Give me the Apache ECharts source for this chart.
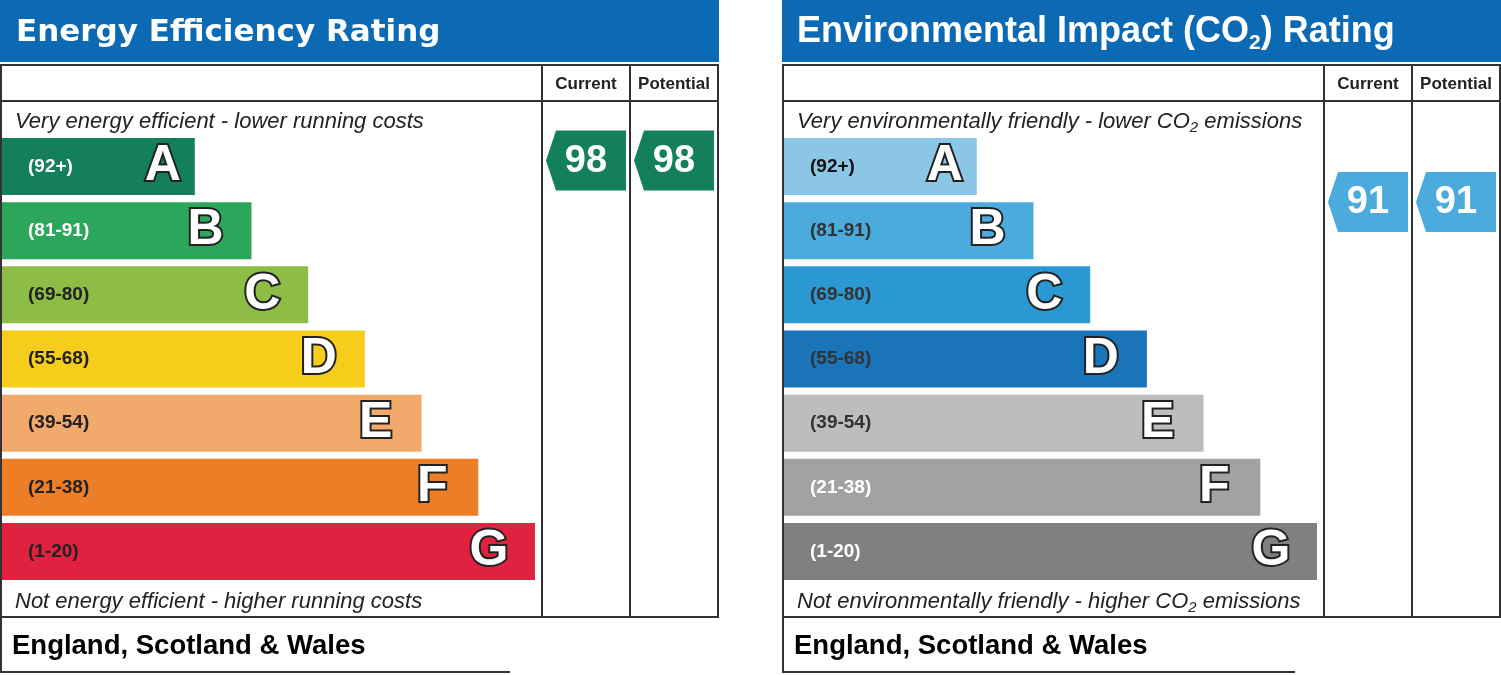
<!DOCTYPE html>
<html>
<head>
<meta charset="utf-8">
<script src="https://cdn.jsdelivr.net/npm/echarts@6/dist/echarts.min.js"></script>
<style>
html,body{margin:0;padding:0;background:#fff;}
#c{width:1501px;height:675px;}
</style>
</head>
<body>
<div id="c"></div>
<script>
// ---- data ----
const bandLetters = ['A', 'B', 'C', 'D', 'E', 'F', 'G'];
const bandRanges = ['(92+)', '(81-91)', '(69-80)', '(55-68)', '(39-54)', '(21-38)', '(1-20)'];
const bandMins = [92, 81, 69, 55, 39, 21, 1];
const barLengths = [34, 44, 54, 64, 74, 84, 94];
const columnLabels = ['Current', 'Potential'];
const energyScores = [98, 98];
const envScores = [91, 91];
const energyTitle = 'Energy Efficiency Rating';
const envTitle = 'Environmental Impact (CO{s|2}) Rating';
const energyTopText = 'Very energy efficient - lower running costs';
const energyBottomText = 'Not energy efficient - higher running costs';
const envTopText = 'Very environmentally friendly - lower CO{s|2} emissions';
const envBottomText = 'Not environmentally friendly - higher CO{s|2} emissions';
const footerText = 'England, Scotland & Wales';

// ---- styles ----
const energyColors = ['#138059', '#2ca65a', '#8ebd45', '#f5cd1a', '#f2a96c', '#ec7e27', '#e0213f'];
const energyLabelColors = ['#fff', '#fff', '#222', '#222', '#222', '#222', '#222'];
const envColors = ['#8cc6e7', '#4aabdc', '#2a98d2', '#1a74b8', '#bdbdbd', '#a2a2a2', '#808080'];
const envLabelColors = ['#111', '#333', '#333', '#333', '#333', '#fff', '#fff'];
const letterInset = [7, 21, 21, 21, 21, 21, 21];
const FONT = '"Liberation Sans", Arial, Helvetica, sans-serif';

function bandIndex(score) {
  for (let i = 0; i < bandMins.length; i++) if (score >= bandMins[i]) return i;
  return bandMins.length - 1;
}

const chart = echarts.init(document.getElementById('c'), null, {renderer: 'canvas'});

const panels = [
  {x0: 0, colA: 542, colB: 630, right: 718, footRight: 510, title: energyTitle, titleFont: 'bold 31px "DejaVu Sans", Verdana, sans-serif',
    top: energyTopText, bottom: energyBottomText, colors: energyColors, labelColors: energyLabelColors, scores: energyScores},
  {x0: 782, colA: 1324, colB: 1412, right: 1500, footRight: 1295, title: envTitle, titleSize: 36,
    top: envTopText, bottom: envBottomText, colors: envColors, labelColors: envLabelColors, scores: envScores}
];

const grids = [], xAxes = [], yAxes = [], series = [], graphics = [];

panels.forEach((p, pi) => {
  const gBar = grids.length;
  grids.push({left: p.x0 + 2, top: 134.4, width: 567, height: 449.2});
  xAxes.push({gridIndex: gBar, type: 'value', min: 0, max: 100, show: false});
  yAxes.push({gridIndex: gBar, type: 'category', data: bandLetters, inverse: true, show: false});
  const gArr = grids.length;
  grids.push({left: p.colA, top: 148.64, width: p.right - p.colA, height: 296.43});
  xAxes.push({gridIndex: gArr, type: 'category', data: columnLabels, show: false});
  yAxes.push({gridIndex: gArr, type: 'value', min: 50, max: 100, show: false});

  series.push({
    type: 'bar', xAxisIndex: gBar, yAxisIndex: gBar, barWidth: 57, barGap: '-100%', silent: true,
    data: barLengths.map((v, i) => ({
      value: v,
      itemStyle: {color: p.colors[i]},
      label: {color: p.labelColors[i]}
    })),
    label: {show: true, position: 'insideLeft', distance: 26, fontFamily: FONT, fontWeight: 'bold', fontSize: 19,
      formatter: (d) => bandRanges[d.dataIndex]}
  });
  series.push({
    type: 'bar', xAxisIndex: gBar, yAxisIndex: gBar, barWidth: 57, barGap: '-100%', silent: true,
    data: barLengths.map((v, i) => ({
      value: v,
      itemStyle: {color: 'rgba(0,0,0,0)'},
      label: {distance: letterInset[i]}
    })),
    label: {show: true, position: 'insideRight',
      formatter: (d) => '{l|' + bandLetters[d.dataIndex] + '}',
      rich: {l: {width: 50, align: 'center', fontFamily: FONT, fontWeight: 'bold', fontSize: 50, color: '#fff',
        textBorderColor: '#222', textBorderWidth: 4}}}
  });
  series.push({
    type: 'custom', xAxisIndex: gArr, yAxisIndex: gArr, silent: true,
    data: p.scores.map((s, i) => [i, s]),
    renderItem: (params, api) => {
      const score = api.value(1);
      const pt = api.coord([api.value(0), score]);
      const w = 80, h = 60, tip = 10, cx = pt[0], cy = pt[1];
      const col = p.colors[bandIndex(score)];
      return {type: 'group', children: [
        {type: 'polygon', shape: {points: [[cx - w / 2, cy], [cx - w / 2 + tip, cy - h / 2], [cx + w / 2, cy - h / 2], [cx + w / 2, cy + h / 2], [cx - w / 2 + tip, cy + h / 2]]},
          style: {fill: col}},
        {type: 'text', x: cx, y: cy + 1, style: {text: String(score), fill: '#fff', font: 'bold 38px ' + FONT, textAlign: 'center', textVerticalAlign: 'middle'}}
      ]};
    }
  });

  // frame & decorations
  const x0 = p.x0;
  graphics.push({type: 'rect', silent: true, shape: {x: x0, y: 0, width: 719, height: 62}, style: {fill: '#0b6ab3'}});
  graphics.push({type: 'rect', silent: true, shape: {x: x0 + 1, y: 65, width: p.right - x0 - 1, height: 552}, style: {fill: 'none', stroke: '#333', lineWidth: 2}});
  graphics.push({type: 'line', silent: true, shape: {x1: x0, y1: 101, x2: p.right, y2: 101}, style: {stroke: '#333', lineWidth: 2}});
  graphics.push({type: 'line', silent: true, shape: {x1: p.colA, y1: 65, x2: p.colA, y2: 617}, style: {stroke: '#333', lineWidth: 2}});
  graphics.push({type: 'line', silent: true, shape: {x1: p.colB, y1: 65, x2: p.colB, y2: 617}, style: {stroke: '#333', lineWidth: 2}});
  graphics.push({type: 'line', silent: true, shape: {x1: x0 + 1, y1: 617, x2: x0 + 1, y2: 673}, style: {stroke: '#333', lineWidth: 2}});
  graphics.push({type: 'line', silent: true, shape: {x1: x0, y1: 672, x2: p.footRight, y2: 672}, style: {stroke: '#333', lineWidth: 2}});

  // title
  if (pi === 0) {
    graphics.push({type: 'text', silent: true, x: x0 + 16, y: 33, style: {text: p.title, fill: '#fff', font: p.titleFont, textVerticalAlign: 'middle'}});
  } else {
    graphics.push({type: 'text', silent: true, x: x0 + 15, y: 10, style: {text: p.title, fill: '#fff', fontFamily: FONT, fontWeight: 'bold', fontSize: p.titleSize, lineHeight: 44,
      rich: {s: {fontFamily: FONT, fontWeight: 'bold', fontSize: 21, lineHeight: 21, verticalAlign: 'bottom', fill: '#fff'}}}});
  }
  // column headers
  const cols = [(p.colA + p.colB) / 2, (p.colB + p.right) / 2];
  columnLabels.forEach((c, i) => {
    graphics.push({type: 'text', silent: true, x: cols[i], y: 84, style: {text: c, fill: '#222', font: 'bold 17px ' + FONT, textAlign: 'center', textVerticalAlign: 'middle'}});
  });
  // top / bottom italic texts
  const itStyle = (txt) => ({text: txt, fill: '#222', fontFamily: FONT, fontStyle: 'italic', fontSize: 22, lineHeight: 26,
    rich: {s: {fontFamily: FONT, fontStyle: 'italic', fontSize: 15, lineHeight: 15, verticalAlign: 'bottom', fill: '#222'}}});
  graphics.push({type: 'text', silent: true, x: x0 + 15, y: 109, style: itStyle(p.top)});
  graphics.push({type: 'text', silent: true, x: x0 + 15, y: 589, style: itStyle(p.bottom)});
  // footer
  graphics.push({type: 'text', silent: true, x: x0 + 12, y: 646, style: {text: footerText, fill: '#000', font: 'bold 27.5px ' + FONT, textVerticalAlign: 'middle'}});
});

chart.setOption({
  animation: false,
  backgroundColor: '#fff',
  grid: grids,
  xAxis: xAxes,
  yAxis: yAxes,
  series: series,
  graphic: {elements: graphics}
});
</script>
</body>
</html>
